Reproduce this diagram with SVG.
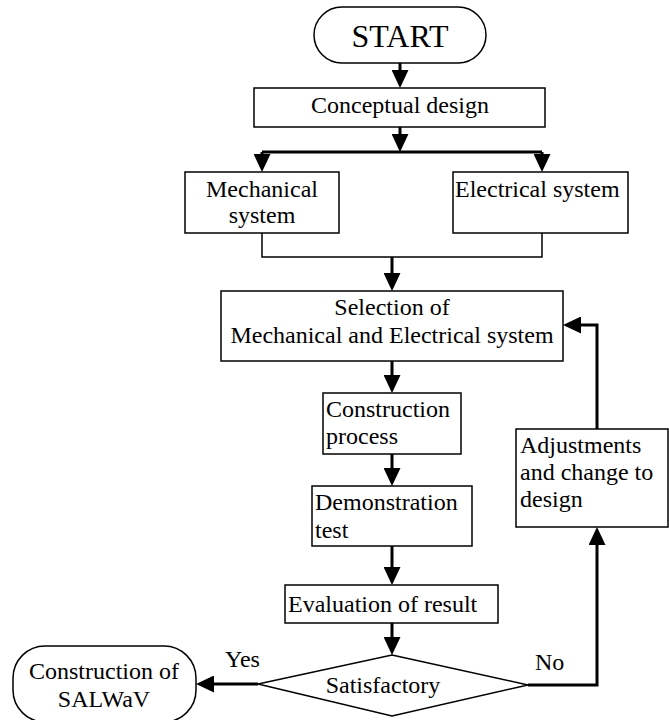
<svg xmlns="http://www.w3.org/2000/svg" width="669" height="720" viewBox="0 0 669 720">
<style>
.box{fill:#fff;stroke:#000;stroke-width:1.5}
text{font-family:'Liberation Serif','DejaVu Serif',serif;font-size:24px;fill:#000}
.c{text-anchor:middle}
.thick{fill:none;stroke:#000;stroke-width:3}
.thin{fill:none;stroke:#000;stroke-width:1.5}
</style>
<defs>
<marker id="ah" markerUnits="userSpaceOnUse" markerWidth="18" markerHeight="17" refX="14" refY="8.5" orient="auto">
<path d="M0,0 L18,8.5 L0,17 z" fill="#000"/>
</marker>
</defs>
<rect width="669" height="720" fill="#fff"/>
<g id="connectors">
<path class="thick" d="M400,63 V84" marker-end="url(#ah)"/>
<path class="thick" d="M400,127 V148" marker-end="url(#ah)"/>
<path class="thick" d="M262,152 H542"/>
<path class="thick" d="M262,152 V168" marker-end="url(#ah)"/>
<path class="thick" d="M542,152 V168" marker-end="url(#ah)"/>
<path class="thin" d="M262,233 V257 H542 V233"/>
<path class="thick" d="M392,257 V287" marker-end="url(#ah)"/>
<path class="thick" d="M392,361 V389" marker-end="url(#ah)"/>
<path class="thick" d="M392,454 V482" marker-end="url(#ah)"/>
<path class="thick" d="M392,546 V581" marker-end="url(#ah)"/>
<path class="thick" d="M392,623 V651" marker-end="url(#ah)"/>
<path class="thick" d="M258,684 H200" marker-end="url(#ah)"/>
<path class="thick" d="M528,685 H597 V531" marker-end="url(#ah)"/>
<path class="thick" d="M597,429 V325 H567" marker-end="url(#ah)"/>
<text font-family="Liberation Serif, serif" x="225" y="667">Yes</text>
<text font-family="Liberation Serif, serif" x="535" y="670">No</text>
</g>
<g id="start">
<rect class="box" x="314" y="7" width="172" height="56" rx="28" ry="28"/>
<text class="c" font-family="Liberation Serif, serif" x="400" y="47" style="font-size:32px">START</text>
</g>
<g id="conceptual">
<rect class="box" x="254" y="88" width="291" height="39"/>
<text class="c" font-family="Liberation Serif, serif" x="400" y="113">Conceptual design</text>
</g>
<g id="mechanical">
<rect class="box" x="185" y="172" width="154" height="61"/>
<text class="c" font-family="Liberation Serif, serif" x="262" y="197">Mechanical</text>
<text class="c" font-family="Liberation Serif, serif" x="262" y="223">system</text>
</g>
<g id="electrical">
<rect class="box" x="453" y="172" width="175" height="61"/>
<text font-family="Liberation Serif, serif" x="455" y="197">Electrical system</text>
</g>
<g id="selection">
<rect class="box" x="221" y="291" width="342" height="70"/>
<text class="c" font-family="Liberation Serif, serif" x="392" y="315">Selection of</text>
<text class="c" font-family="Liberation Serif, serif" x="392" y="343">Mechanical and Electrical system</text>
</g>
<g id="construction">
<rect class="box" x="323" y="393" width="138" height="61"/>
<text font-family="Liberation Serif, serif" x="326" y="417">Construction</text>
<text font-family="Liberation Serif, serif" x="326" y="444">process</text>
</g>
<g id="demonstration">
<rect class="box" x="312" y="486" width="160" height="60"/>
<text font-family="Liberation Serif, serif" x="315" y="510">Demonstration</text>
<text font-family="Liberation Serif, serif" x="315" y="538">test</text>
</g>
<g id="evaluation">
<rect class="box" x="285" y="585" width="213" height="38"/>
<text font-family="Liberation Serif, serif" x="288" y="612">Evaluation of result</text>
</g>
<g id="satisfactory">
<polygon class="box" points="392,655 528,685 392,716 258,684"/>
<text class="c" font-family="Liberation Serif, serif" x="383" y="693">Satisfactory</text>
</g>
<g id="adjustments">
<rect class="box" x="516" y="429" width="152" height="98"/>
<text font-family="Liberation Serif, serif" x="520" y="453">Adjustments</text>
<text font-family="Liberation Serif, serif" x="520" y="480">and change to</text>
<text font-family="Liberation Serif, serif" x="520" y="507">design</text>
</g>
<g id="salwav">
<rect class="box" x="13" y="646" width="183" height="76" rx="32" ry="32"/>
<text class="c" font-family="Liberation Serif, serif" x="104" y="679">Construction of</text>
<text class="c" font-family="Liberation Serif, serif" x="104" y="707">SALWaV</text>
</g>
</svg>
